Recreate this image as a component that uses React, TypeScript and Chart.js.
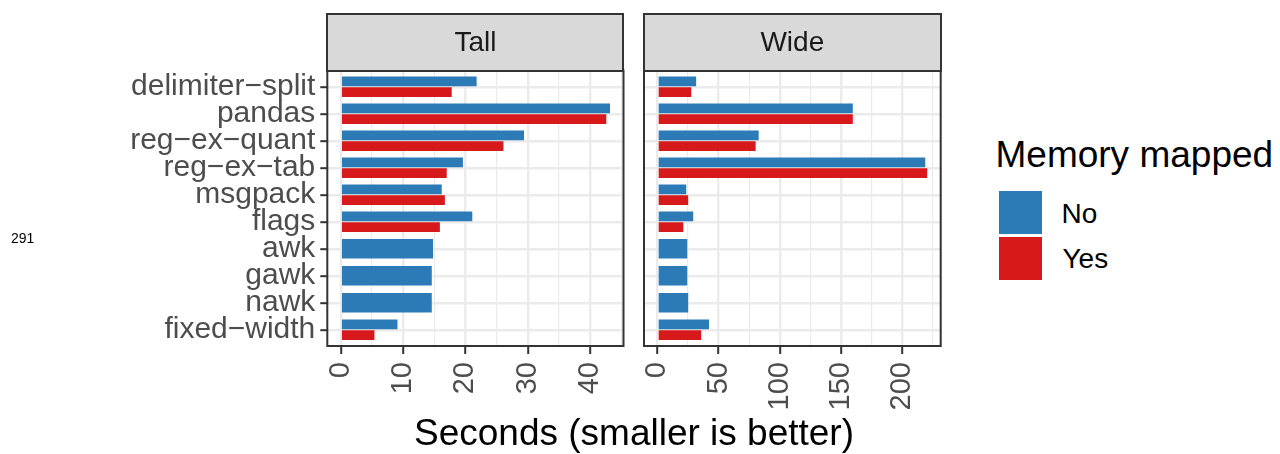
import React, { useEffect, useRef } from 'react';
import { Chart, registerables } from 'chart.js';

Chart.register(...registerables);

// ---------- data ----------
const categories = ['delimiter−split', 'pandas', 'reg−ex−quant', 'reg−ex−tab', 'msgpack', 'flags', 'awk', 'gawk', 'nawk', 'fixed−width'];
const seriesNames = ['No', 'Yes'];
const facetNames = ['Tall', 'Wide'];
const tallNo = [21.8, 43.2, 29.4, 19.6, 16.2, 21.1, 14.8, 14.6, 14.6, 9.1];
const tallYes = [17.8, 42.6, 26.1, 17.0, 16.7, 15.9, null, null, null, 5.4];
const wideNo = [31.6, 159.6, 82.7, 218.8, 23.5, 29.2, 24.3, 24.3, 25.1, 42.1];
const wideYes = [27.6, 159.6, 80.2, 220.4, 25.1, 21.1, null, null, null, 35.7];
const tallTicks = [0, 10, 20, 30, 40];
const wideTicks = [0, 50, 100, 150, 200];
const xTitle = 'Seconds (smaller is better)';
const legendTitle = 'Memory mapped';
const strayLabel = '291';

const COLORS: Record<string, string> = { No: '#2C7BB6', Yes: '#D7191C' };
const FONT = "'Liberation Sans', Arial, Helvetica, sans-serif";

const borderPlugin = {
  id: 'panelBorder',
  afterDraw(chart: any) {
    const { ctx, chartArea: a } = chart;
    ctx.save();
    ctx.strokeStyle = '#333333';
    ctx.lineWidth = 2;
    ctx.strokeRect(a.left, a.top, a.right - a.left, a.bottom - a.top);
    ctx.restore();
  },
};

const zeroPad = (a: any) => {
  a.paddingTop = 0;
  a.paddingBottom = 0;
  a.paddingLeft = 0;
  a.paddingRight = 0;
};

type PanelProps = {
  no: (number | null)[];
  yes: (number | null)[];
  ticks: number[];
  showY: boolean;
  left: number;
  width: number;
  yAxisWidth: number;
  padRight: number;
};

function Panel({ no, yes, ticks, showY, left, width, yAxisWidth, padRight }: PanelProps) {
  const ref = useRef<HTMLCanvasElement | null>(null);
  useEffect(() => {
    if (!ref.current) return;
    const vals = [...no, ...yes].filter((v) => v != null) as number[];
    const maxV = Math.max(...vals);
    const step = ticks[1] - ticks[0];
    const allTicks: number[] = [];
    ticks.forEach((t) => {
      allTicks.push(t);
      allTicks.push(t + step / 2);
    });
    const isMajor = (c: any) => c && c.tick && ticks.includes(c.tick.value);
    const chart = new Chart(ref.current, {
      type: 'bar',
      data: {
        datasets: [
          {
            label: seriesNames[0],
            data: no.map((v, i) => ({ x: v, y: i })) as any,
            backgroundColor: COLORS.No,
          },
          {
            label: seriesNames[1],
            data: yes.map((v, i) => ({ x: v, y: i })) as any,
            backgroundColor: COLORS.Yes,
          },
        ],
      },
      options: {
        indexAxis: 'y',
        responsive: false,
        animation: false,
        events: [],
        layout: { padding: { top: 10.5, right: padRight, left: 0, bottom: 0 } },
        datasets: {
          bar: { categoryPercentage: 0.8, barPercentage: 0.9, skipNull: true, borderWidth: 0 },
        } as any,
        plugins: { legend: { display: false }, tooltip: { enabled: false } },
        scales: {
          x: {
            type: 'linear',
            bounds: 'data',
            offset: false,
            min: -0.05 * maxV,
            max: 1.05 * maxV,
            afterBuildTicks: (a: any) => {
              a.ticks = allTicks.map((v) => ({ value: v }));
            },
            afterFit: (a: any) => {
              a.height = 108;
              zeroPad(a);
            },
            border: { display: false },
            grid: {
              offset: false,
              color: '#EBEBEB',
              lineWidth: (c: any) => (isMajor(c) ? 2.4 : 1.2),
              tickColor: (c: any) => (isMajor(c) ? '#333333' : 'rgba(0,0,0,0)'),
              tickWidth: 2,
              tickLength: 8,
            },
            ticks: {
              autoSkip: false,
              minRotation: 90,
              maxRotation: 90,
              padding: 8,
              color: '#4D4D4D',
              font: { family: FONT, size: 29 },
              callback: (v: any) => (ticks.includes(Number(v)) ? String(v) : ''),
            },
          },
          y: {
            type: 'linear',
            bounds: 'data',
            offset: false,
            reverse: true,
            min: -0.6,
            max: categories.length - 1 + 0.6,
            afterBuildTicks: (a: any) => {
              a.ticks = categories.map((_, i) => ({ value: i }));
            },
            afterFit: (a: any) => {
              a.width = yAxisWidth;
              zeroPad(a);
            },
            border: { display: false },
            grid: {
              offset: false,
              color: '#EBEBEB',
              lineWidth: 2.4,
              drawTicks: showY,
              tickColor: '#333333',
              tickWidth: 2,
              tickLength: 7,
            },
            ticks: {
              display: showY,
              autoSkip: false,
              padding: 5,
              color: '#4D4D4D',
              font: { family: FONT, size: 30 },
              callback: (v: any) => categories[Number(v)] ?? '',
            },
          },
        },
      } as any,
      plugins: [borderPlugin],
    });
    return () => chart.destroy();
  }, []);
  return (
    <canvas
      ref={ref}
      width={width}
      height={394}
      style={{ position: 'absolute', left, top: 60 }}
    />
  );
}

function Txt({ text, left, baseline, size, color, width, align }: any) {
  return (
    <div
      style={{
        position: 'absolute',
        left,
        top: baseline - 0.8465 * size,
        width,
        fontFamily: FONT,
        fontSize: size,
        lineHeight: `${size}px`,
        color,
        whiteSpace: 'nowrap',
        textAlign: align || 'left',
      }}
    >
      {text}
    </div>
  );
}

function Strip({ label, left, width }: any) {
  return (
    <div
      style={{
        position: 'absolute',
        left,
        top: 13,
        width,
        height: 58.5,
        boxSizing: 'border-box',
        border: '2px solid #333333',
        background: '#D9D9D9',
      }}
    >
      <Txt text={label} left={0} baseline={51.5 - 15} size={28} color="#1A1A1A" width={width - 4} align="center" />
    </div>
  );
}

export default function App() {
  return (
    <div
      style={{
        position: 'fixed',
        left: 0,
        top: 0,
        width: 1280,
        height: 454,
        background: '#FFFFFF',
        overflow: 'hidden',
      }}
    >
      <Panel no={tallNo} yes={tallYes} ticks={tallTicks} showY={true} left={0} width={634} yAxisWidth={327.3} padRight={10.5} />
      <Panel no={wideNo} yes={wideYes} ticks={wideTicks} showY={false} left={634} width={320} yAxisWidth={10} padRight={13.3} />
      <Strip label={facetNames[0]} left={326.3} width={298.2} />
      <Strip label={facetNames[1]} left={643} width={298.7} />
      <Txt text={xTitle} left={327.3} width={613.4} baseline={445} size={37} color="#000000" align="center" />
      <Txt text={strayLabel} left={11} baseline={243} size={14} color="#000000" />
      <Txt text={legendTitle} left={995.5} baseline={167.3} size={37} color="#000000" />
      <div style={{ position: 'absolute', left: 999, top: 191, width: 43, height: 43, background: COLORS.No }} />
      <div style={{ position: 'absolute', left: 999, top: 237, width: 43, height: 43, background: COLORS.Yes }} />
      <Txt text={seriesNames[0]} left={1061.5} baseline={223.3} size={28} color="#000000" />
      <Txt text={seriesNames[1]} left={1062.5} baseline={268.5} size={28} color="#000000" />
    </div>
  );
}
